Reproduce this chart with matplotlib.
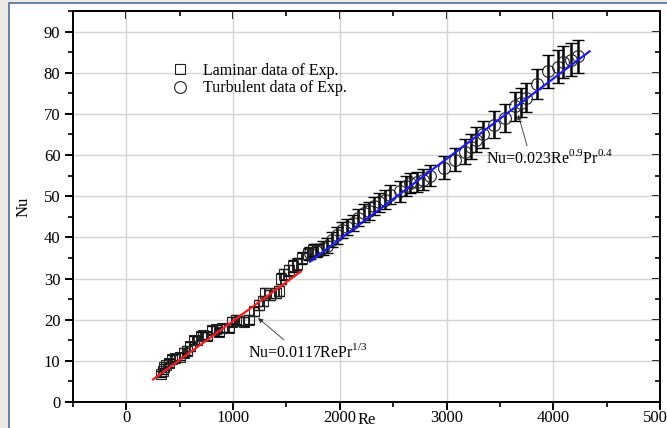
import matplotlib
matplotlib.use("Agg")
import matplotlib.pyplot as plt
from matplotlib.patches import Rectangle
from matplotlib.ticker import MultipleLocator

plt.rcParams['font.family'] = ['Liberation Serif', 'DejaVu Serif']
plt.rcParams['mathtext.fontset'] = 'custom'
plt.rcParams['mathtext.rm'] = 'Liberation Serif'

# laminar experimental data (squares)
lam_re = [320, 340, 350, 370, 400, 430, 460, 500, 540, 570, 600, 630, 660, 700, 720,
          760, 800, 840, 870, 900, 960, 990, 1030, 1060, 1100, 1150, 1200, 1240, 1280,
          1300, 1350, 1400, 1430, 1450, 1480, 1520, 1560, 1600, 1650, 1700, 1750, 1800]
lam_nu = [6.8, 7.5, 8.5, 9.0, 9.5, 10.5, 10.8, 11.0, 12.0, 12.5, 13.5, 15.0, 15.0, 16.0, 16.3,
          16.0, 17.5, 17.8, 17.0, 18.0, 18.0, 19.5, 20.0, 19.8, 19.5, 20.0, 22.0, 23.5, 24.5,
          26.5, 26.0, 26.5, 27.0, 30.0, 31.0, 32.0, 33.0, 33.5, 35.0, 36.0, 37.0, 37.0]
lam_err = [0.8, 0.8, 0.8, 0.8, 0.9, 0.9, 0.9, 0.9, 1.0, 1.0, 1.0, 1.0, 1.0, 1.0, 1.0,
           1.0, 1.0, 1.0, 1.0, 1.0, 1.0, 1.1, 1.1, 1.1, 1.1, 1.1, 1.2, 1.2, 1.2,
           1.3, 1.3, 1.3, 1.3, 1.4, 1.4, 1.4, 1.5, 1.5, 1.5, 1.5, 1.5, 1.5]

# turbulent experimental data (circles)
tur_re = [1720, 1780, 1840, 1880, 1923, 1970, 2023, 2070, 2123, 2170, 2222, 2270, 2320,
          2370, 2421, 2468, 2561, 2620, 2661, 2720, 2780, 2843, 2980, 3080, 3171, 3230,
          3280, 3340, 3440, 3546, 3638, 3700, 3749, 3843, 3951, 4040, 4090, 4170, 4230]
tur_nu = [36.2, 36.8, 37.4, 38.0, 39.4, 40.5, 41.8, 42.5, 43.5, 44.8, 45.9, 46.5, 47.7,
          48.5, 49.1, 50.4, 51.2, 52.5, 53.2, 53.5, 54.0, 55.0, 56.9, 58.9, 60.8, 62.0,
          63.7, 65.0, 67.4, 69.0, 71.8, 72.7, 73.9, 77.3, 80.4, 81.5, 82.6, 83.2, 84.0]
tur_err = [1.5, 1.5, 1.8, 1.8, 1.8, 2.0, 2.0, 2.0, 2.0, 2.0, 2.2, 2.2, 2.2,
           2.3, 2.3, 2.3, 2.5, 2.5, 2.5, 2.5, 2.6, 2.6, 2.8, 2.8, 3.0, 3.0,
           3.0, 3.2, 3.2, 3.3, 3.5, 3.5, 3.5, 3.6, 4.0, 4.0, 4.0, 4.0, 4.0]

# correlation lines
lam_fit_re = [250, 1635]
lam_fit_nu = [5.5, 31.7]
tur_fit_re = [1720, 4340]
tur_fit_nu = [34.1, 85.2]

fig = plt.figure(figsize=(6.67, 4.28), dpi=100, facecolor='#ece9e3')
# white panel with a thin blue frame, as in the screenshot
fig.patches.append(Rectangle((8.5 / 667, -0.02), 1.0, 1.02 - 3.5 / 428,
                             transform=fig.transFigure, facecolor='white',
                             edgecolor='#5a78a6', linewidth=1.3, zorder=-5))
ax = fig.add_axes([73 / 667, 26 / 428, 587 / 667, 391 / 428])
ax.patch.set_alpha(0)

ax.errorbar(lam_re, lam_nu, yerr=lam_err, fmt='none', ecolor='black',
            elinewidth=1.2, capsize=3.5, capthick=1, zorder=2)
ax.errorbar(tur_re, tur_nu, yerr=tur_err, fmt='none', ecolor='black',
            elinewidth=1.8, capsize=4, capthick=1, zorder=2)
ax.plot(lam_re, lam_nu, 's', ms=7.5, mfc='none', mec='#222222', mew=0.8,
        label='Laminar data of Exp.', zorder=3)
ax.plot(tur_re, tur_nu, 'o', ms=8.5, mfc='none', mec='#222222', mew=0.8,
        label='Turbulent data of Exp.', zorder=3)
ax.plot(lam_fit_re, lam_fit_nu, color='#ff1a1a', lw=1.6, zorder=4)
ax.plot(tur_fit_re, tur_fit_nu, color='#1a1aff', lw=1.6, zorder=4)

ax.annotate('Nu=0.0117RePr$^{\\mathrm{1/3}}$', xy=(1234, 20.4), xytext=(1140, 12.2),
            fontsize=11.5, va='center', ha='left',
            arrowprops=dict(arrowstyle='-|>', color='#333333', lw=0.6,
                            mutation_scale=7, shrinkA=0, shrinkB=0,
                            relpos=(0.33, 1.0)))
ax.annotate('Nu=0.023Re$^{\\mathrm{0.9}}$Pr$^{\\mathrm{0.4}}$', xy=(3671, 69.8), xytext=(3369, 59.4),
            fontsize=11.5, va='center', ha='left',
            arrowprops=dict(arrowstyle='-|>', color='#333333', lw=0.6,
                            mutation_scale=7, shrinkA=0, shrinkB=0,
                            relpos=(0.33, 1.0)))

ax.set_xlim(-500, 5000)
ax.set_ylim(0, 95)
ax.xaxis.set_major_locator(MultipleLocator(1000))
ax.xaxis.set_minor_locator(MultipleLocator(500))
ax.yaxis.set_major_locator(MultipleLocator(10))
ax.yaxis.set_minor_locator(MultipleLocator(5))
ax.grid(True, which='major', color='#d4d4d4', lw=1)
ax.set_axisbelow(True)

ax.tick_params(which='major', direction='out', length=6, width=1.4, labelsize=12)
ax.tick_params(which='minor', direction='out', length=3.5, width=1.2)
ax.tick_params(axis='x', pad=0)
ax.tick_params(axis='y', pad=3)
for s in ax.spines.values():
    s.set_linewidth(1.4)

top = ax.secondary_xaxis('top')
top.xaxis.set_major_locator(MultipleLocator(1000))
top.xaxis.set_minor_locator(MultipleLocator(500))
top.tick_params(which='major', direction='in', length=6, width=1.4, labeltop=False)
top.tick_params(which='minor', direction='in', length=3.5, width=1.2)
top.spines['top'].set_linewidth(1.4)
right = ax.secondary_yaxis('right')
right.yaxis.set_major_locator(MultipleLocator(10))
right.yaxis.set_minor_locator(MultipleLocator(5))
right.tick_params(which='major', direction='in', length=6, width=1.4, labelright=False)
right.tick_params(which='minor', direction='in', length=3.5, width=1.2)
right.spines['right'].set_linewidth(1.4)

ax.set_xlabel('Re', fontsize=12)
ax.xaxis.set_label_coords(0.5, -0.026)
ax.set_ylabel('Nu', fontsize=12)
ax.yaxis.set_label_coords(-0.07, 0.5)

ax.legend(loc='upper left', bbox_to_anchor=(0.145, 0.905), frameon=False,
          fontsize=11.5, handlelength=1.0, handletextpad=0.9, labelspacing=0.1)

fig.savefig('out.png', dpi=100, facecolor=fig.get_facecolor())
